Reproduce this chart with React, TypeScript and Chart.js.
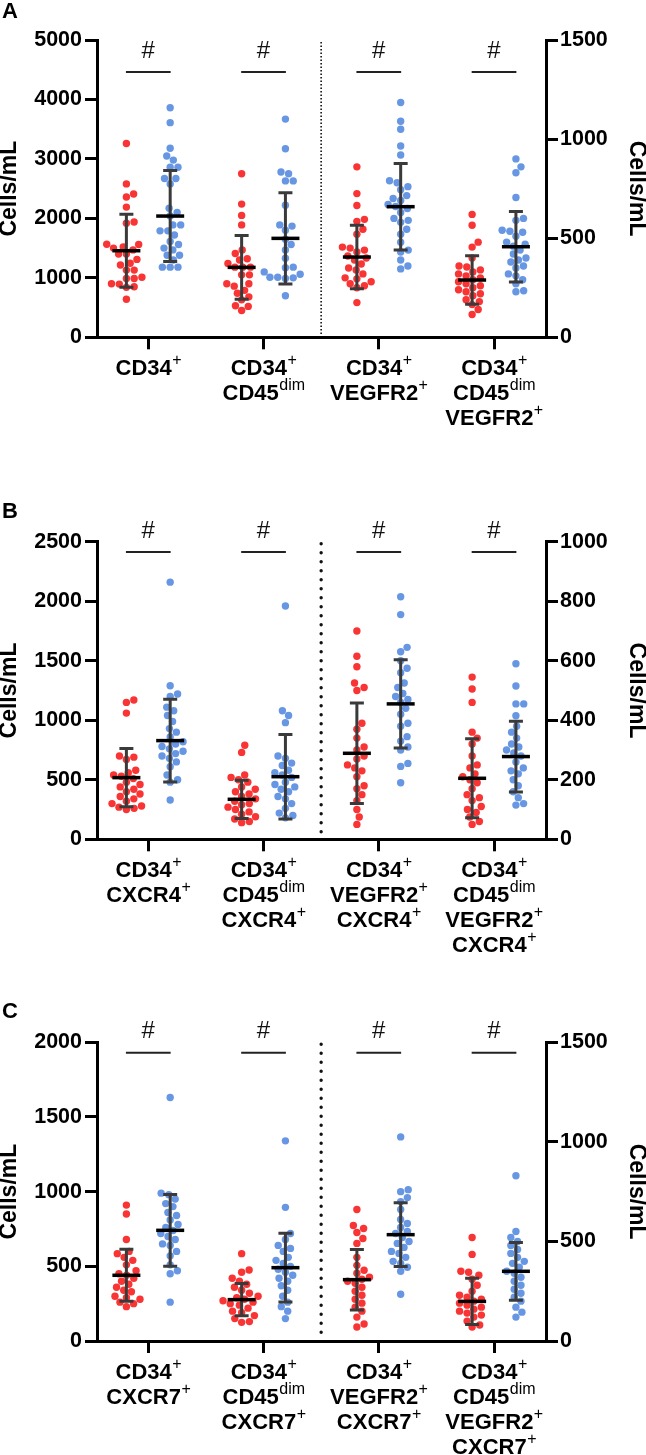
import React, { useEffect, useRef } from 'react';
import { Chart, registerables } from 'chart.js';

Chart.register(...registerables);

const FONT = '"Liberation Sans", Arial, Helvetica, sans-serif';
const RED = '#F93434';
const BLUE = '#6797E3';

// ---------- Panel A ----------
const catsA = [['CD34|+'], ['CD34|+', 'CD45|dim'], ['CD34|+', 'VEGFR2|+'], ['CD34|+', 'CD45|dim', 'VEGFR2|+']];
const leftTicksA = [0, 1000, 2000, 3000, 4000, 5000];
const rightTicksA = [0, 500, 1000, 1500];
const A1_red = [3260, 2580, 2410, 2360, 2190, 1940, 1920, 1565, 1560, 1520, 1500, 1470, 1400, 1400, 1310, 1245, 1215, 1130, 1130, 1010, 990, 990, 900, 895, 850, 840, 640];
const A1_blue = [3860, 3610, 3180, 3050, 2980, 2860, 2860, 2670, 2670, 2580, 2170, 2100, 2040, 1890, 1890, 1790, 1790, 1720, 1610, 1560, 1500, 1470, 1380, 1380, 1300, 1180, 1180, 1180];
const A2_red = [2750, 2240, 2050, 1890, 1470, 1410, 1320, 1300, 1240, 1180, 1180, 1180, 1050, 1050, 900, 900, 860, 790, 740, 680, 630, 530, 520, 450];
const A2_blue = [3670, 3170, 2780, 2750, 2630, 2630, 2220, 1890, 1870, 1800, 1650, 1560, 1470, 1330, 1180, 1170, 1100, 1060, 1010, 1010, 1000, 990, 700];
const A3_red = [860, 725, 665, 595, 585, 545, 520, 455, 450, 440, 430, 410, 400, 390, 370, 350, 340, 320, 300, 295, 280, 270, 260, 250, 175];
const A3_blue = [1185, 1090, 1050, 965, 920, 790, 780, 760, 745, 715, 700, 690, 670, 660, 650, 630, 600, 590, 580, 545, 520, 480, 440, 430, 390, 360, 345];
const A4_red = [620, 565, 480, 455, 400, 360, 355, 340, 330, 320, 310, 300, 290, 280, 270, 260, 250, 240, 230, 220, 210, 190, 180, 165, 140, 115];
const A4_blue = [900, 860, 830, 705, 600, 590, 540, 535, 530, 510, 480, 470, 460, 440, 420, 400, 390, 380, 360, 350, 320, 310, 290, 270, 235, 230];
const meanRedA = [1456, 1176, 405, 289];
const sdRedA = [613, 535, 160, 122];
const meanBlueA = [2039, 1664, 659, 457];
const sdBlueA = [765, 767, 218, 178];

// ---------- Panel B ----------
const catsB = [['CD34|+', 'CXCR4|+'], ['CD34|+', 'CD45|dim', 'CXCR4|+'], ['CD34|+', 'VEGFR2|+', 'CXCR4|+'], ['CD34|+', 'CD45|dim', 'VEGFR2|+', 'CXCR4|+']];
const leftTicksB = [0, 500, 1000, 1500, 2000, 2500];
const rightTicksB = [0, 200, 400, 600, 800, 1000];
const B1_red = [1170, 1150, 1060, 700, 690, 670, 580, 560, 540, 530, 510, 480, 460, 440, 420, 400, 380, 360, 340, 320, 300, 280, 270, 260, 250];
const B1_blue = [2160, 1290, 1220, 1200, 1110, 1080, 1040, 990, 930, 900, 860, 820, 800, 780, 760, 740, 720, 700, 680, 650, 610, 540, 500, 480, 330];
const B2_red = [790, 730, 540, 520, 500, 480, 440, 420, 400, 380, 360, 340, 320, 300, 290, 270, 250, 230, 210, 190, 170, 150, 140];
const B2_blue = [1960, 1080, 1040, 980, 700, 680, 640, 620, 580, 560, 540, 520, 480, 460, 440, 420, 400, 360, 340, 300, 260, 220, 200, 180];
const B3_red = [700, 615, 580, 525, 510, 500, 390, 370, 340, 310, 300, 280, 270, 250, 240, 230, 210, 180, 170, 150, 130, 100, 75, 50];
const B3_blue = [815, 755, 645, 630, 600, 575, 560, 525, 510, 490, 480, 470, 460, 440, 420, 390, 380, 345, 330, 310, 300, 255, 245, 190];
const B4_red = [545, 505, 460, 360, 340, 320, 280, 250, 240, 220, 210, 200, 190, 170, 150, 140, 130, 110, 100, 90, 75, 60, 50];
const B4_blue = [590, 515, 455, 455, 415, 380, 360, 340, 320, 310, 300, 290, 280, 260, 240, 230, 220, 200, 180, 160, 140, 120, 115];
const meanRedB = [518, 336, 289, 205];
const sdRedB = [245, 161, 169, 133];
const meanBlueB = [829, 526, 455, 278];
const sdBlueB = [348, 355, 148, 119];

// ---------- Panel C ----------
const catsC = [['CD34|+', 'CXCR7|+'], ['CD34|+', 'CD45|dim', 'CXCR7|+'], ['CD34|+', 'VEGFR2|+', 'CXCR7|+'], ['CD34|+', 'CD45|dim', 'VEGFR2|+', 'CXCR7|+']];
const leftTicksC = [0, 500, 1000, 1500, 2000];
const rightTicksC = [0, 500, 1000, 1500];
const C1_red = [910, 850, 680, 600, 585, 560, 540, 510, 470, 450, 440, 420, 400, 380, 360, 340, 330, 300, 290, 280, 260, 250, 230];
const C1_blue = [1630, 990, 980, 950, 920, 900, 860, 840, 810, 780, 760, 740, 720, 700, 680, 650, 640, 600, 570, 510, 470, 450, 260];
const C2_red = [585, 475, 460, 420, 400, 380, 360, 340, 320, 300, 290, 280, 270, 260, 250, 240, 220, 200, 190, 170, 150, 130, 125];
const C2_blue = [1340, 895, 720, 680, 640, 620, 600, 560, 540, 520, 500, 480, 460, 440, 420, 400, 370, 340, 300, 260, 230, 200, 150];
const C3_red = [660, 580, 565, 545, 515, 490, 420, 380, 355, 340, 320, 310, 300, 290, 270, 250, 230, 210, 190, 170, 150, 120, 85, 70];
const C3_blue = [1025, 760, 750, 720, 700, 660, 610, 590, 570, 550, 540, 520, 500, 490, 470, 450, 440, 420, 400, 390, 370, 350, 235];
const C4_red = [520, 435, 350, 345, 330, 310, 280, 250, 230, 220, 210, 200, 190, 180, 170, 160, 150, 140, 130, 120, 100, 80, 70];
const C4_blue = [830, 550, 520, 500, 480, 460, 440, 420, 400, 390, 370, 350, 340, 320, 300, 280, 260, 240, 220, 200, 170, 145, 120];
const meanRedC = [440, 277, 308, 199];
const sdRedC = [174, 108, 152, 116];
const meanBlueC = [741, 491, 534, 350];
const sdBlueC = [240, 230, 160, 145];

const X_MIN = -0.445;
const X_MAX = 3.451;
const SIDE = 0.19;
const AXIS_LEFT = 97;
const AXIS_RIGHT_W = 100;
const W = 646;
const DIAM = 7.8;

function swarm(values: number[], pxPerUnit: number, diam: number): number[] {
  const idx = values.map((_, i) => i).sort((a, b) => values[a] - values[b]);
  const placed: { x: number; y: number }[] = [];
  const out: number[] = new Array(values.length).fill(0);
  for (const i of idx) {
    const y = values[i] * pxPerUnit;
    const cands: number[] = [0];
    for (const p of placed) {
      const dy = Math.abs(p.y - y);
      if (dy < diam) {
        const dx = Math.sqrt(diam * diam - dy * dy);
        cands.push(p.x + dx + 0.01, p.x - dx - 0.01);
      }
    }
    cands.sort((a, b) => Math.abs(a) - Math.abs(b));
    let chosen = 0;
    for (const c of cands) {
      let ok = true;
      for (const p of placed) {
        const ddx = p.x - c;
        const ddy = p.y - y;
        if (ddx * ddx + ddy * ddy < diam * diam - 0.02) { ok = false; break; }
      }
      if (ok) { chosen = c; break; }
    }
    placed.push({ x: chosen, y });
    out[i] = chosen;
  }
  return out;
}

type PanelProps = {
  letter: string;
  letterBaseline: number;
  top: number;
  height: number;
  chartTop: number;
  chartBottom: number;
  cats: string[][];
  leftTicks: number[];
  rightTicks: number[];
  reds: number[][];
  blues: number[][];
  meanRed: number[];
  sdRed: number[];
  meanBlue: number[];
  sdBlue: number[];
  sigLevel: number;
  heavyDivider: boolean;
};

function Panel(p: PanelProps) {
  const ref = useRef<HTMLCanvasElement | null>(null);
  useEffect(() => {
    const canvas = ref.current;
    if (!canvas) return;
    const leftMax = p.leftTicks[p.leftTicks.length - 1];
    const rightMax = p.rightTicks[p.rightTicks.length - 1];
    const plotH = p.chartBottom - p.chartTop;
    const xPx = (W - AXIS_RIGHT_W - AXIS_LEFT) / (X_MAX - X_MIN);

    const datasets: any[] = [];
    for (let i = 0; i < 4; i++) {
      const axis = i < 2 ? 'y' : 'y2';
      const max = i < 2 ? leftMax : rightMax;
      const pxU = plotH / max;
      [[p.reds[i], RED, -SIDE], [p.blues[i], BLUE, SIDE]].forEach(([vals, col, side]: any) => {
        const offs = swarm(vals, pxU, DIAM);
        datasets.push({
          type: 'scatter',
          data: vals.map((v: number, k: number) => ({ x: i + side + offs[k] / xPx, y: v })),
          yAxisID: axis,
          xAxisID: 'x',
          backgroundColor: col,
          borderWidth: 0,
          pointRadius: 3.7,
          pointHoverRadius: 3.7,
        });
      });
    }

    const tickGrid = { display: true, drawOnChartArea: false, drawTicks: true, tickLength: 12, lineWidth: 3, color: '#000' };
    const border = { display: true, width: 3, color: '#000' };
    const tickFont = { family: FONT, size: 21.5, weight: 'bold' as const };
    const titleFont = { family: FONT, size: 23, weight: 'bold' as const, lineHeight: 0.8 };
    const fmt = (v: any) => String(v);

    const overlay = {
      id: 'overlay',
      beforeDatasetsDraw(chart: any) {
        const ctx = chart.ctx;
        const xs = chart.scales.x;
        const ca = chart.chartArea;
        const x = xs.getPixelForValue(1.5);
        ctx.save();
        ctx.strokeStyle = '#111';
        if (p.heavyDivider) {
          ctx.lineWidth = 3.4;
          ctx.lineCap = 'round';
          ctx.setLineDash([0, 9]);
        } else {
          ctx.lineWidth = 1.6;
          ctx.setLineDash([1.6, 1.9]);
        }
        ctx.beginPath();
        ctx.moveTo(x, ca.top + 2);
        ctx.lineTo(x, ca.bottom - 2);
        ctx.stroke();
        ctx.restore();
      },
      afterDatasetsDraw(chart: any) {
        const ctx = chart.ctx;
        const xs = chart.scales.x;
        ctx.save();
        ctx.lineCap = 'butt';
        for (let i = 0; i < 4; i++) {
          const ys = i < 2 ? chart.scales.y : chart.scales.y2;
          const groups = [[p.meanRed[i], p.sdRed[i], -SIDE], [p.meanBlue[i], p.sdBlue[i], SIDE]];
          for (const [m, sd, side] of groups) {
            const xc = xs.getPixelForValue(i + side);
            const yTop = ys.getPixelForValue(m + sd);
            const yBot = ys.getPixelForValue(Math.max(0, m - sd));
            const yM = ys.getPixelForValue(m);
            ctx.strokeStyle = '#3a3a3a';
            ctx.lineWidth = 3;
            ctx.beginPath();
            ctx.moveTo(xc, yTop);
            ctx.lineTo(xc, yBot);
            ctx.moveTo(xc - 7, yTop);
            ctx.lineTo(xc + 7, yTop);
            ctx.moveTo(xc - 7, yBot);
            ctx.lineTo(xc + 7, yBot);
            ctx.stroke();
            ctx.strokeStyle = '#000';
            ctx.lineWidth = 3.5;
            ctx.beginPath();
            ctx.moveTo(xc - 14, yM);
            ctx.lineTo(xc + 14, yM);
            ctx.stroke();
          }
        }
        ctx.restore();
      },
      afterDraw(chart: any) {
        const ctx = chart.ctx;
        const xs = chart.scales.x;
        const ys = chart.scales.y;
        const ca = chart.chartArea;
        ctx.save();
        // significance marks
        const ySig = ys.getPixelForValue(p.sigLevel);
        for (let i = 0; i < 4; i++) {
          const xl = xs.getPixelForValue(i - 0.194);
          const xr = xs.getPixelForValue(i + 0.194);
          ctx.strokeStyle = '#222';
          ctx.lineWidth = 2;
          ctx.beginPath();
          ctx.moveTo(xl, ySig);
          ctx.lineTo(xr, ySig);
          ctx.stroke();
          ctx.fillStyle = '#111';
          ctx.font = `24px ${FONT}`;
          ctx.textAlign = 'center';
          ctx.textBaseline = 'middle';
          ctx.fillText('#', xs.getPixelForValue(i), ySig - 21);
        }
        // category labels
        ctx.textBaseline = 'alphabetic';
        ctx.textAlign = 'left';
        ctx.fillStyle = '#000';
        p.cats.forEach((lines, i) => {
          const xc = xs.getPixelForValue(i);
          lines.forEach((ln, k) => {
            const [main, sup] = ln.split('|');
            const base = ca.bottom + 38 + 25 * k;
            ctx.font = `bold 22px ${FONT}`;
            const wm = ctx.measureText(main).width;
            ctx.font = `16px ${FONT}`;
            const ws = sup ? ctx.measureText(sup).width : 0;
            const x0 = xc - (wm + ws) / 2;
            ctx.font = `bold 22px ${FONT}`;
            ctx.fillText(main, x0, base);
            if (sup) {
              ctx.font = `16px ${FONT}`;
              ctx.fillText(sup, x0 + wm + 0.5, base - 10);
            }
          });
        });
        // panel letter
        ctx.font = `bold 22px ${FONT}`;
        ctx.fillText(p.letter, 2, p.letterBaseline);
        ctx.restore();
      },
    };

    const chart = new Chart(canvas, {
      type: 'scatter',
      data: { datasets },
      options: {
        animation: false,
        responsive: false,
        devicePixelRatio: 1,
        events: [],
        layout: { padding: { top: p.chartTop, left: 0, right: 0, bottom: 0 } },
        plugins: { legend: { display: false }, tooltip: { enabled: false } },
        scales: {
          x: {
            type: 'linear',
            position: 'bottom',
            min: X_MIN,
            max: X_MAX,
            afterBuildTicks: (s: any) => { s.ticks = [0, 1, 2, 3].map((v) => ({ value: v })); },
            afterFit: (s: any) => { s.height = p.height - p.chartBottom; },
            grid: tickGrid,
            border,
            ticks: { callback: () => '', font: tickFont },
          },
          y: {
            type: 'linear',
            position: 'left',
            min: 0,
            max: leftMax,
            afterBuildTicks: (s: any) => { s.ticks = p.leftTicks.map((v) => ({ value: v })); },
            afterFit: (s: any) => { s.width = AXIS_LEFT; },
            grid: tickGrid,
            border,
            ticks: { font: tickFont, color: '#000', padding: 3, callback: fmt },
            title: { display: true, text: 'Cells/mL', font: titleFont, color: '#000', padding: 0 },
          },
          y2: {
            type: 'linear',
            position: 'right',
            min: 0,
            max: rightMax,
            afterBuildTicks: (s: any) => { s.ticks = p.rightTicks.map((v) => ({ value: v })); },
            afterFit: (s: any) => { s.width = AXIS_RIGHT_W; },
            grid: tickGrid,
            border,
            ticks: { font: tickFont, color: '#000', padding: 2, callback: fmt },
            title: { display: true, text: 'Cells/mL', font: titleFont, color: '#000', padding: 0 },
          },
        },
      } as any,
      plugins: [overlay],
    });
    return () => chart.destroy();
  }, []);
  return (
    <canvas
      ref={ref}
      width={W}
      height={p.height}
      style={{ position: 'absolute', left: 0, top: p.top, width: W, height: p.height, display: 'block' }}
    />
  );
}

export default function App() {
  return (
    <div style={{ position: 'absolute', left: 0, top: 0, width: W, height: 1455, background: '#fff' }}>
      <Panel
        letter="A" letterBaseline={18} top={0} height={445} chartTop={40} chartBottom={337.3}
        cats={catsA} leftTicks={leftTicksA} rightTicks={rightTicksA}
        reds={[A1_red, A2_red, A3_red, A4_red]} blues={[A1_blue, A2_blue, A3_blue, A4_blue]}
        meanRed={meanRedA} sdRed={sdRedA} meanBlue={meanBlueA} sdBlue={sdBlueA}
        sigLevel={4462} heavyDivider={false}
      />
      <Panel
        letter="B" letterBaseline={23} top={495} height={505} chartTop={46.7} chartBottom={344.3}
        cats={catsB} leftTicks={leftTicksB} rightTicks={rightTicksB}
        reds={[B1_red, B2_red, B3_red, B4_red]} blues={[B1_blue, B2_blue, B3_blue, B4_blue]}
        meanRed={meanRedB} sdRed={sdRedB} meanBlue={meanBlueB} sdBlue={sdBlueB}
        sigLevel={2413} heavyDivider={true}
      />
      <Panel
        letter="C" letterBaseline={18} top={1000} height={455} chartTop={42.3} chartBottom={341}
        cats={catsC} leftTicks={leftTicksC} rightTicks={rightTicksC}
        reds={[C1_red, C2_red, C3_red, C4_red]} blues={[C1_blue, C2_blue, C3_blue, C4_blue]}
        meanRed={meanRedC} sdRed={sdRedC} meanBlue={meanBlueC} sdBlue={sdBlueC}
        sigLevel={1930} heavyDivider={true}
      />
    </div>
  );
}
